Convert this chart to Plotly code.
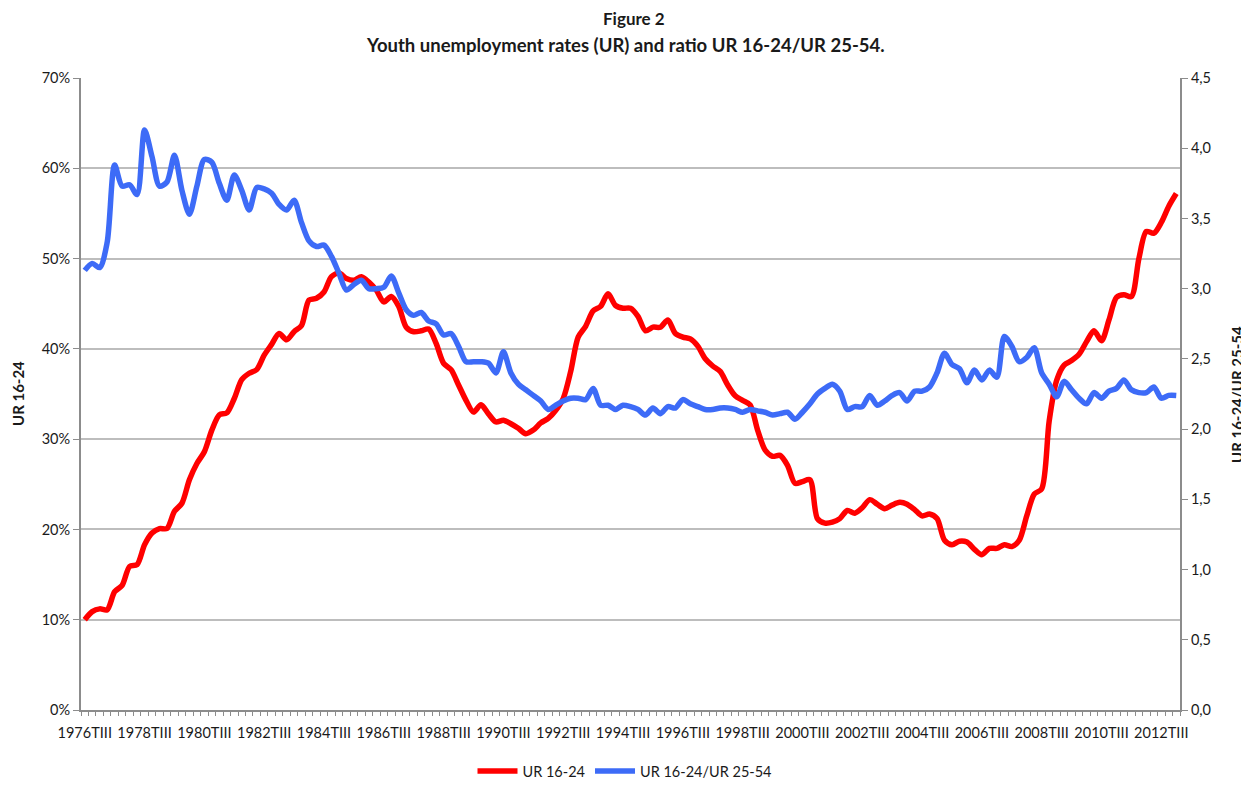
import plotly.graph_objects as go

# Quarterly categories 1976TIII .. 2013TI
roman = ["TI", "TII", "TIII", "TIV"]
categories = []
for y in range(1976, 2014):
    for q in range(4):
        if (y == 1976 and q < 2) or (y == 2013 and q > 0):
            continue
        categories.append(f"{y}{roman[q]}")

ur_16_24 = [
    10.0, 10.9, 11.2, 11.1, 13.1, 13.8, 15.9, 16.1, 18.3, 19.6,
    20.1, 20.1, 22.0, 22.9, 25.5, 27.3, 28.6, 31.0, 32.7, 32.9,
    34.5, 36.6, 37.3, 37.7, 39.3, 40.5, 41.7, 41.0, 41.9, 42.6,
    45.4, 45.6, 46.3, 48.0, 48.4, 47.8, 47.6, 48.0, 47.4, 46.5,
    45.2, 45.8, 44.7, 42.4, 41.9, 42.0, 42.2, 40.6, 38.4, 37.7,
    36.0, 34.3, 33.0, 33.8, 32.8, 31.9, 32.1, 31.7, 31.2, 30.6,
    31.0, 31.8, 32.3, 33.2, 34.5, 37.5, 41.3, 42.5, 44.2, 44.7,
    46.1, 44.8, 44.5, 44.5, 43.6, 42.0, 42.4, 42.4, 43.2, 41.7,
    41.3, 41.1, 40.3, 38.9, 38.1, 37.5, 36.0, 34.8, 34.3, 33.8,
    31.0, 28.8, 28.1, 28.2, 27.1, 25.1, 25.3, 25.5, 21.2, 20.7,
    20.8, 21.2, 22.1, 21.8, 22.4, 23.3, 22.8, 22.3, 22.7, 23.0,
    22.8, 22.2, 21.5, 21.7, 21.2, 18.8, 18.3, 18.7, 18.6, 17.8,
    17.2, 17.9, 17.9, 18.3, 18.1, 18.8, 21.5, 23.9, 24.5, 32.0,
    36.5, 38.2, 38.7, 39.4, 40.8, 42.0, 40.9, 43.2, 45.7, 46.0,
    45.8, 50.0, 53.0, 52.8, 54.0, 55.8, 57.2,
]

ratio_16_24_25_54 = [
    3.13, 3.18, 3.15, 3.33, 3.88, 3.73, 3.74, 3.67, 4.13, 3.94,
    3.73, 3.76, 3.95, 3.70, 3.53, 3.73, 3.92, 3.90, 3.75, 3.63,
    3.81, 3.70, 3.56, 3.72, 3.71, 3.68, 3.60, 3.56, 3.63, 3.47,
    3.34, 3.30, 3.31, 3.23, 3.11, 2.99, 3.03, 3.06, 3.00, 3.00,
    3.01, 3.09, 2.97, 2.85, 2.81, 2.83, 2.77, 2.75, 2.67, 2.68,
    2.59, 2.48, 2.48, 2.48, 2.47, 2.40, 2.55, 2.40, 2.32, 2.28,
    2.24, 2.20, 2.14, 2.17, 2.20, 2.22, 2.22, 2.21, 2.29, 2.17,
    2.17, 2.14, 2.17, 2.16, 2.14, 2.10, 2.15, 2.11, 2.16, 2.15,
    2.21, 2.18, 2.16, 2.14, 2.14, 2.15, 2.15, 2.14, 2.12, 2.14,
    2.13, 2.12, 2.10, 2.11, 2.12, 2.07, 2.12, 2.18, 2.25, 2.29,
    2.32, 2.27, 2.14, 2.16, 2.16, 2.24, 2.17, 2.20, 2.24, 2.26,
    2.20, 2.27, 2.27, 2.30, 2.40, 2.54, 2.46, 2.43, 2.33, 2.42,
    2.35, 2.42, 2.37, 2.66, 2.59, 2.48, 2.51, 2.58, 2.40, 2.32,
    2.23, 2.34, 2.28, 2.22, 2.18, 2.26, 2.22, 2.27, 2.29, 2.35,
    2.28, 2.26, 2.26, 2.30, 2.22, 2.24, 2.24,
]

left_ticks = [0, 10, 20, 30, 40, 50, 60, 70]
right_ticks = [0, 0.5, 1.0, 1.5, 2.0, 2.5, 3.0, 3.5, 4.0, 4.5]

FONT = "Lato"
TXT = "#1a1a1a"
n = len(categories)
xs = list(range(n))

# page has an 8px body margin; figure drawn at offset (8, 8) in the screenshot
OFF = 8
W, H = 1249 - OFF, 788 - OFF
L, R, T, B = 81 - OFF, 1180 - OFF, 78 - OFF, 710 - OFF
PW, PH = R - L, B - T


def px_x(sx):
    return (sx - OFF - L) / PW


def px_y(sy):
    return (B - (sy - OFF)) / PH


fig = go.Figure()
fig.add_trace(go.Scatter(
    x=xs, y=ur_16_24, name="UR 16-24", mode="lines",
    line=dict(color="#ff0000", width=5.5, shape="spline", smoothing=0.8),
))
fig.add_trace(go.Scatter(
    x=xs, y=ratio_16_24_25_54, name="UR 16-24/UR 25-54", mode="lines",
    line=dict(color="#3d6bf7", width=5.5, shape="spline", smoothing=0.8),
    yaxis="y2",
))

label_idx = list(range(0, n, 8))
fig.update_layout(
    width=W, height=H,
    margin=dict(l=L, r=W - R, t=T, b=H - B, autoexpand=False),
    paper_bgcolor="white", plot_bgcolor="white",
    separators=",.",
    font=dict(family=FONT, color=TXT, size=14),
    showlegend=True,
    legend=dict(orientation="h", x=px_x(625), xanchor="center", y=px_y(771), yanchor="middle",
                font=dict(size=14.5, family=FONT, color=TXT), itemwidth=40,
                tracegroupgap=0, traceorder="normal"),
    xaxis=dict(
        range=[-0.5, n - 0.5], automargin=False,
        tickmode="array", tickvals=label_idx, ticktext=[categories[i] for i in label_idx],
        ticks="outside", ticklen=9, tickcolor="rgba(0,0,0,0)",
        showgrid=False, zeroline=False,
        showline=True, linecolor="#8c8c8c", linewidth=2,
        tickfont=dict(size=14.5, family=FONT, color=TXT),
        minor=dict(tickmode="linear", tick0=0.5, dtick=1, ticks="outside",
                   ticklen=4, tickcolor="#8c8c8c", tickwidth=1, showgrid=False),
    ),
    yaxis=dict(
        range=[0, 70], tickmode="array", tickvals=left_ticks, automargin=False,
        ticktext=[f"{v}%" for v in left_ticks],
        showgrid=True, gridcolor="#bdbdbd", gridwidth=2,
        zeroline=False, showline=True, linecolor="#8c8c8c", linewidth=2,
        ticks="outside", ticklen=6, tickcolor="#8c8c8c", tickwidth=1,
        tickfont=dict(size=14.5, family=FONT, color=TXT),
    ),
    yaxis2=dict(
        range=[0, 4.5], overlaying="y", side="right", automargin=False,
        tickmode="array", tickvals=right_ticks, tickformat=".1f",
        showgrid=False, zeroline=False, showline=True,
        linecolor="#8c8c8c", linewidth=2,
        ticks="outside", ticklen=6, tickcolor="#8c8c8c", tickwidth=1,
        tickfont=dict(size=14.5, family=FONT, color=TXT),
    ),
    annotations=[
        dict(text="<b>Figure 2</b>", xref="paper", yref="paper", x=px_x(634), y=px_y(19),
             xanchor="center", yanchor="middle", showarrow=False,
             font=dict(size=17, family=FONT, color=TXT)),
        dict(text="<b>Youth unemployment rates (UR) and ratio UR 16-24/UR 25-54.</b>",
             xref="paper", yref="paper", x=px_x(625), y=px_y(45),
             xanchor="center", yanchor="middle", showarrow=False,
             font=dict(size=18.5, family=FONT, color=TXT)),
        dict(text="<b>UR 16-24</b>", xref="paper", yref="paper",
             x=px_x(18), y=px_y(394), textangle=-90,
             xanchor="center", yanchor="middle", showarrow=False,
             font=dict(size=15, family=FONT, color=TXT)),
        dict(text="<b>UR 16-24/UR 25-54</b>", xref="paper", yref="paper",
             x=px_x(1237), y=px_y(395), textangle=-90,
             xanchor="center", yanchor="middle", showarrow=False,
             font=dict(size=15, family=FONT, color=TXT)),
    ],
)

fig.write_html("out.html")
